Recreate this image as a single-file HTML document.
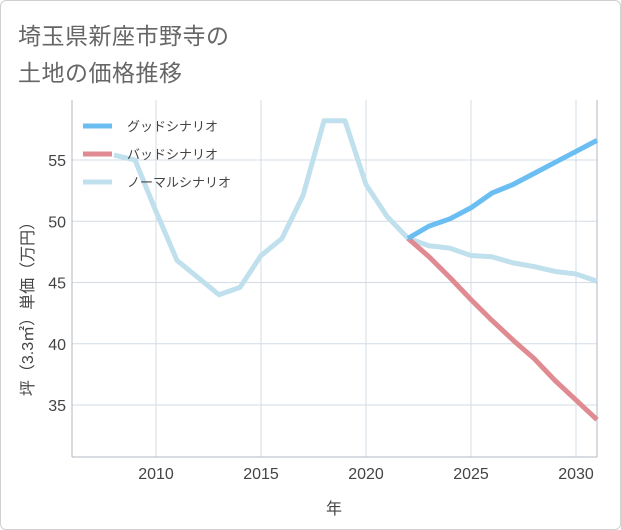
<!DOCTYPE html>
<html><head><meta charset="utf-8"><style>
html,body{margin:0;padding:0;background:#fff;}
#wrap{position:relative;width:619px;height:528px;border:1px solid #d0d0d0;border-radius:6px;overflow:hidden;font-family:"Liberation Sans","Noto Sans CJK JP",sans-serif;}
.t{position:absolute;left:17px;font-size:23px;color:#666;letter-spacing:0.5px;}
</style></head><body>
<div id="wrap">
<div class="t" style="top:16px">埼玉県新座市野寺の</div>
<div class="t" style="top:53px">土地の価格推移</div>
<svg id="chart" width="621" height="530" style="position:absolute;left:-1px;top:-1px"></svg>
</div>
<script>
const years=[2008,2009,2010,2011,2012,2013,2014,2015,2016,2017,2018,2019,2020,2021,2022,2023,2024,2025,2026,2027,2028,2029,2030,2031];
const normalValues=[55.4,55.0,50.8,46.8,45.4,44.0,44.6,47.2,48.6,52.1,58.2,58.2,53.0,50.4,48.6,48.0,47.8,47.2,47.1,46.6,46.3,45.9,45.7,45.1];
const goodYears=[2022,2023,2024,2025,2026,2027,2028,2029,2030,2031];
const goodValues=[48.6,49.6,50.2,51.1,52.3,53.0,53.9,54.8,55.7,56.6];
const badValues=[48.6,47.1,45.4,43.6,41.9,40.3,38.8,37.0,35.4,33.8];
const xTicks=[2010,2015,2020,2025,2030];
const yTicks=[35,40,45,50,55];
const legendLabels=["グッドシナリオ","バッドシナリオ","ノーマルシナリオ"];
const L=72,R=597,T=100,B=457;
const x=v=>L+(v-2006)*(R-L)/25;
const y=v=>160+(55-v)*12.25;
const svg=document.getElementById('chart');
const NS='http://www.w3.org/2000/svg';
function mk(tag,attrs){const e=document.createElementNS(NS,tag);for(const k in attrs)e.setAttribute(k,attrs[k]);svg.appendChild(e);return e;}
yTicks.forEach(v=>{
 const g=mk('line',{x1:L,x2:R,y1:y(v),y2:y(v),stroke:'#d3dce6','stroke-width':1});
 
 
 const t=mk('text',{x:L-6,y:y(v)+6,'text-anchor':'end','font-size':16,fill:'#444'});
 t.textContent=v;
 
 
});
xTicks.forEach(v=>{
 const g=mk('line',{x1:x(v),x2:x(v),y1:T,y2:B,stroke:'#d3dce6','stroke-width':1});
 
 
 const t=mk('text',{x:x(v),y:B+22,'text-anchor':'middle','font-size':16,fill:'#444'});
 t.textContent=v;
 
 
});
const ax=mk('line',{x1:L,x2:L,y1:T,y2:B,stroke:'#b0b8c0','stroke-width':1});


const ax2=mk('line',{x1:L,x2:R,y1:B,y2:B,stroke:'#b0b8c0','stroke-width':1});


const ax3=mk('line',{x1:R,x2:R,y1:T,y2:B,stroke:'#b0b8c0','stroke-width':1});


function line(xs,vs,color,name){
 const p=mk('polyline',{points:xs.map((yr,i)=>x(yr)+','+y(vs[i])).join(' '),fill:'none',stroke:color,'stroke-width':5,'stroke-linejoin':'round'});
 
 
}
line(years,normalValues,'#bfe0ec','normal-scenario-line');
line(goodYears,badValues,'#e08b92','bad-scenario-line');
line(goodYears,goodValues,'#6bbef2','good-scenario-line');
const colors=['#6bbef2','#e08b92','#bfe0ec'];
legendLabels.forEach((lab,i)=>{
 const yy=126+i*28;
 const l=mk('line',{x1:83,x2:112,y1:yy,y2:yy,stroke:colors[i],'stroke-width':5});
 
 
 const t=mk('text',{x:127,y:yy+5,'font-size':13,fill:'#444'});
 t.textContent=lab;
 
 
});
const xt=mk('text',{x:334,y:514,'text-anchor':'middle','font-size':16,fill:'#444'});
xt.textContent='年';


const yt=mk('text',{x:0,y:0,'text-anchor':'middle','font-size':16,fill:'#444',transform:'translate(33,305) rotate(-90)'});
yt.textContent='坪（3.3㎡）単価（万円）';


</script>
</body></html>
